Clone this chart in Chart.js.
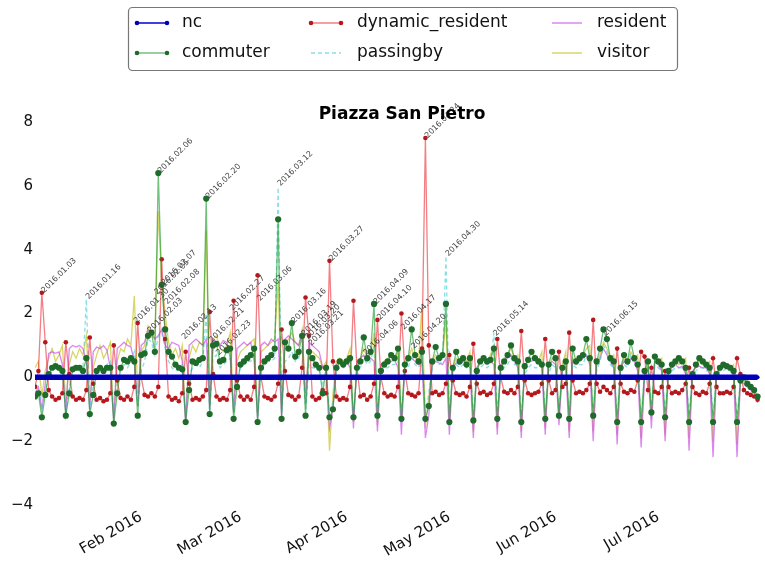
<!DOCTYPE html>
<html>
<head>
<meta charset="utf-8">
<script src="https://cdn.jsdelivr.net/npm/chart.js@4.4.0/dist/chart.umd.min.js"></script>
<style>
  html, body { margin: 0; padding: 0; background: #fff; }
  #wrap { position: relative; width: 765px; height: 569px; }
</style>
</head>
<body>
<div id="wrap"><canvas id="piazza" width="765" height="569"></canvas></div>
<script>
// giorni dal 2016-01-01 (ven) al 2016-07-30; una riga = una settimana lun..dom
const START = Date.UTC(2016, 0, 1);
const DAY = 86400000;

const tickDays = [31, 60, 91, 121, 152, 182];
const tickLabels = ['Feb 2016', 'Mar 2016', 'Apr 2016', 'May 2016', 'Jun 2016', 'Jul 2016'];

const nc = [
  0, 0, 0,
  0, 0, 0, 0, 0, 0, 0,  0, 0, 0, 0, 0, 0, 0,  0, 0, 0, 0, 0, 0, 0,  0, 0, 0, 0, 0, 0, 0,
  0, 0, 0, 0, 0, 0, 0,  0, 0, 0, 0, 0, 0, 0,  0, 0, 0, 0, 0, 0, 0,  0, 0, 0, 0, 0, 0, 0,
  0, 0, 0, 0, 0, 0, 0,  0, 0, 0, 0, 0, 0, 0,  0, 0, 0, 0, 0, 0, 0,  0, 0, 0, 0, 0, 0, 0,
  0, 0, 0, 0, 0, 0, 0,  0, 0, 0, 0, 0, 0, 0,  0, 0, 0, 0, 0, 0, 0,  0, 0, 0, 0, 0, 0, 0,
  0, 0, 0, 0, 0, 0, 0,  0, 0, 0, 0, 0, 0, 0,  0, 0, 0, 0, 0, 0, 0,  0, 0, 0, 0, 0, 0, 0,
  0, 0, 0, 0, 0, 0, 0,  0, 0, 0, 0, 0, 0, 0,  0, 0, 0, 0, 0, 0, 0,  0, 0, 0, 0, 0, 0, 0,
  0, 0, 0, 0, 0, 0, 0,  0, 0, 0, 0, 0, 0, 0,  0, 0, 0, 0, 0, 0, 0,  0, 0, 0, 0, 0, 0, 0,
  0, 0, 0, 0, 0, 0, 0,  0, 0, 0, 0, 0, 0
];

const commuter = [
  -0.6, -0.5, -1.25,
  -0.55, 0.1, 0.3, 0.35, 0.3, 0.2, -1.2,
  -0.5, 0.25, 0.3, 0.3, 0.2, 0.6, -1.15,
  -0.55, 0.2, 0.3, 0.2, 0.3, 0.3, -1.45,
  -0.5, 0.3, 0.55, 0.5, 0.6, 0.5, -1.2,
  0.7, 0.75, 1.3, 1.4, 0.8, 6.4, 2.9,
  1.5, 0.8, 0.65, 0.4, 0.3, 0.25, -1.4,
  -0.4, 0.5, 0.45, 0.55, 0.6, 5.6, -1.15,
  1.0, 1.05, 0.5, 0.55, 0.85, 0.9, -1.3,
  -0.3, 0.4, 0.5, 0.6, 0.7, 0.9, -1.4,
  0.3, 0.5, 0.6, 0.7, 0.9, 4.95, -1.3,
  1.1, 0.9, 1.7, 0.65, 0.8, 1.3, -1.2,
  0.8, 0.6, 0.4, 0.3, -0.5, 0.3, -1.25,
  -1.0, 0.3, 0.5, 0.4, 0.5, 0.6, -1.25,
  0.3, 0.5, 1.25, 0.6, 0.8, 2.3, -1.2,
  0.2, 0.4, 0.5, 0.7, 0.6, 0.9, -1.3,
  0.4, 0.6, 1.5, 0.7, 0.5, 0.8, -1.3,
  -0.9, 0.5, 0.95, 0.6, 0.7, 2.3, -1.4,
  0.3, 0.8, 0.5, 0.6, 0.4, 0.6, -1.35,
  0.2, 0.5, 0.6, 0.5, 0.55, 0.9, -1.3,
  0.3, 0.5, 0.7, 1.0, 0.6, 0.5, -1.4,
  0.35, 0.55, 0.8, 0.6, 0.5, 0.4, -1.3,
  0.4, 0.8, 0.6, -1.2, 0.3, 0.5, -1.3,
  0.9, 0.5, 0.6, 0.7, 1.2, 0.6, -1.2,
  0.5, 0.9, 1.5, 1.2, 0.6, 0.5, -1.4,
  0.3, 0.7, 0.5, 1.1, 0.6, 0.4, -1.4,
  0.2, 0.5, -1.1, 0.65, 0.5, 0.4, -1.25,
  0.2, 0.4, 0.5, 0.6, 0.5, 0.3, -1.4,
  0.1, 0.4, 0.6, 0.5, 0.4, 0.3, -1.4,
  0.1, 0.3, 0.4, 0.35, 0.3, 0.2, -1.4,
  -0.1, 0.0, -0.2, -0.3, -0.4, -0.6
];

const dynamicResident = [
  -0.3, 0.2, 2.65,
  1.1, -0.4, -0.6, -0.7, -0.65, -0.5, 1.1,
  0.1, -0.6, -0.7, -0.65, -0.7, -0.4, 1.25,
  -0.2, -0.7, -0.65, -0.75, -0.7, -0.5, 1.0,
  -0.1, -0.65, -0.7, -0.6, -0.7, -0.3, 1.7,
  0.0, -0.55, -0.6, -0.5, -0.6, -0.3, 3.7,
  1.2, -0.6, -0.7, -0.65, -0.75, -0.5, 0.8,
  -0.2, -0.7, -0.65, -0.7, -0.6, -0.4, 2.05,
  0.1, -0.6, -0.7, -0.65, -0.7, -0.4, 2.4,
  -0.1, -0.6, -0.7, -0.6, -0.7, -0.3, 3.2,
  0.0, -0.6, -0.65, -0.7, -0.6, -0.2, 1.5,
  0.2, -0.55, -0.6, -0.7, -0.6, 0.3, 2.5,
  1.3, -0.6, -0.7, -0.65, -0.4, -0.5, 3.65,
  0.5, -0.6, -0.7, -0.65, -0.7, -0.3, 2.4,
  0.3, -0.6, -0.55, -0.7, -0.6, -0.2, 1.8,
  0.0, -0.5, -0.6, -0.55, -0.6, -0.3, 2.0,
  0.2, -0.5, -0.55, -0.6, -0.5, 0.9, 7.5,
  1.0, -0.5, -0.45, -0.55, -0.5, -0.2, 0.7,
  -0.1, -0.5, -0.55, -0.5, -0.6, -0.3, 1.05,
  -0.2, -0.5, -0.45, -0.55, -0.5, -0.2, 1.2,
  0.0, -0.45, -0.5, -0.4, -0.5, -0.3, 1.45,
  -0.1, -0.5, -0.55, -0.5, -0.45, -0.2, 1.2,
  -0.1, -0.5, -0.4, 0.8, -0.3, -0.2, 1.4,
  -0.1, -0.5, -0.45, -0.5, -0.4, -0.2, 1.8,
  -0.2, -0.45, -0.3, -0.4, -0.5, -0.3, 0.9,
  -0.2, -0.45, -0.5, -0.4, -0.45, -0.1, 0.8,
  0.65, -0.4, 0.3, -0.45, -0.5, -0.3, 0.2,
  -0.3, -0.5, -0.45, -0.5, -0.4, -0.2, 0.3,
  -0.3, -0.5, -0.55, -0.45, -0.5, -0.2, 0.6,
  -0.3, -0.5, -0.5, -0.45, -0.5, -0.3, 0.6,
  0.1, -0.4, -0.5, -0.55, -0.6, -0.7
];

const passingby = [
  -0.2, -0.3, -1.0,
  -0.4, 0.1, 0.2, 0.3, 0.2, 0.3, -1.1,
  -0.3, 0.2, 0.25, 0.2, 0.3, 2.45, -1.0,
  -0.2, 0.2, 0.3, 0.2, 0.4, 0.5, -1.2,
  -0.2, 0.3, 0.4, 0.3, 0.5, 0.8, -0.9,
  0.2, 0.5, 1.2, 1.1, 0.7, 1.3, 1.4,
  0.9, 0.5, 0.3, 0.2, 0.3, 0.4, -1.2,
  0.1, 0.3, 0.4, 0.3, 0.5, 2.0, -1.1,
  0.6, 0.7, 0.3, 0.4, 0.5, 0.6, -1.1,
  0.0, 0.3, 0.4, 0.5, 0.5, 0.7, -1.2,
  0.3, 0.4, 0.5, 0.5, 0.6, 5.95, -1.1,
  0.5, 0.6, 0.8, 0.5, 0.6, 1.0, -1.0,
  0.4, 0.3, 0.3, 0.2, -0.2, 0.2, -1.3,
  -0.8, 0.2, 0.3, 0.3, 0.4, 0.5, -1.2,
  0.2, 0.3, 0.6, 0.4, 0.5, 1.0, -1.2,
  0.1, 0.3, 0.3, 0.4, 0.4, 0.5, -1.2,
  0.2, 0.3, 0.7, 0.4, 0.3, 0.6, -1.1,
  -0.5, 0.3, 0.6, 0.4, 0.5, 3.8, -1.1,
  0.1, 0.4, 0.3, 0.4, 0.3, 0.5, -1.2,
  0.0, 0.3, 0.4, 0.3, 0.4, 1.4, -1.1,
  0.1, 0.3, 0.4, 0.6, 0.4, 0.4, -1.2,
  0.1, 0.3, 0.4, 0.3, 0.3, 0.5, -1.1,
  0.1, 0.4, 0.3, -1.0, 0.2, 0.4, -1.2,
  0.4, 0.3, 0.4, 0.4, 0.7, 0.5, -1.1,
  0.2, 0.5, 1.0, 0.8, 0.4, 0.3, -1.2,
  0.1, 0.4, 0.3, 0.7, 0.4, 0.3, -1.3,
  0.0, 0.3, -1.0, 0.5, 0.3, 0.2, -1.1,
  0.1, 0.2, 0.3, 0.3, 0.3, 0.2, -1.2,
  0.0, 0.2, 0.3, 0.3, 0.2, 0.2, -1.2,
  0.0, 0.2, 0.2, 0.3, 0.2, 0.1, -1.3,
  -0.1, -0.1, -0.2, -0.3, -0.4, -0.5
];

const resident = [
  -0.5, -0.3, -1.0,
  -0.2, 0.75, 0.8, 0.75, 0.8, 0.4, -1.2,
  0.9, 1.0, 0.95, 1.0, 0.9, 0.5, -1.0,
  0.8, 0.95, 0.9, 1.0, 0.85, 0.3, -1.4,
  0.9, 1.0, 1.1, 1.0, 0.95, 0.5, -0.9,
  1.0, 1.1, 1.5, 1.4, 1.2, 1.3, 1.5,
  1.0, 0.9, 1.1, 1.05, 1.0, 0.5, -1.5,
  1.0, 1.1, 1.2, 1.1, 1.0, 1.2, -1.0,
  1.2, 1.1, 1.0, 1.15, 1.1, 0.6, -1.1,
  0.9, 1.0, 1.1, 1.0, 1.1, 0.5, -1.3,
  1.0, 1.1, 1.0, 1.2, 1.1, 1.2, -1.2,
  1.2, 1.3, 1.2, 1.1, 1.0, 1.4, -0.8,
  1.1, 1.0, 0.9, 0.8, 0.3, 0.2, -1.6,
  -1.0, 0.4, 0.5, 0.45, 0.5, 0.3, -1.6,
  0.5, 0.6, 0.7, 0.5, 0.6, 0.5, -1.7,
  0.4, 0.5, 0.45, 0.5, 0.55, 0.3, -1.8,
  0.4, 0.5, 0.6, 0.5, 0.4, 0.5, -1.9,
  -1.2, 0.4, 0.5, 0.45, 0.4, 0.6, -1.8,
  0.3, 0.45, 0.4, 0.5, 0.45, 0.3, -1.9,
  0.3, 0.5, 0.55, 0.4, 0.5, 0.4, -1.8,
  0.4, 0.5, 0.6, 0.7, 0.5, 0.3, -1.9,
  0.4, 0.5, 0.5, 0.6, 0.5, 0.3, -1.8,
  0.4, 0.5, 0.4, -1.5, 0.2, 0.3, -1.9,
  0.5, 0.4, 0.5, 0.6, 0.7, 0.4, -2.0,
  0.4, 0.6, 0.9, 0.7, 0.5, 0.3, -2.1,
  0.3, 0.5, 0.4, 0.6, 0.5, 0.2, -2.2,
  0.0, 0.3, -1.6, 0.5, 0.4, 0.2, -2.0,
  0.2, 0.3, 0.4, 0.3, 0.35, 0.1, -2.3,
  0.2, 0.3, 0.35, 0.3, 0.3, 0.1, -2.5,
  0.1, 0.3, 0.3, 0.35, 0.3, 0.0, -2.5,
  -0.1, -0.2, -0.3, -0.4, -0.5, -0.8
];

const visitor = [
  0.3, 0.5, -0.6,
  0.2, 0.6, 0.9, 0.5, 0.7, 1.0, -0.8,
  0.4, 0.8, 0.6, 0.9, 0.7, 1.3, -0.7,
  0.3, 0.7, 1.0, 0.6, 0.8, 1.1, -1.3,
  0.5, 0.9, 0.8, 1.2, 1.0, 2.55, -0.5,
  0.8, 1.0, 1.6, 1.3, 1.2, 5.2, 3.0,
  2.0, 1.1, 0.7, 0.9, 0.6, 1.0, -1.3,
  0.6, 1.0, 0.8, 1.1, 1.0, 4.6, -0.9,
  1.2, 1.3, 0.9, 0.8, 1.0, 1.4, -1.0,
  0.5, 0.8, 0.9, 1.0, 1.1, 1.2, -1.1,
  0.8, 0.9, 1.0, 1.1, 1.2, 3.0, -1.0,
  1.0, 1.2, 1.4, 1.1, 1.0, 1.5, -0.5,
  0.9, 0.8, 0.7, 0.6, 0.3, 0.5, -2.3,
  -0.5, 0.5, 0.6, 0.5, 0.6, 0.9, -1.4,
  0.4, 0.6, 0.9, 0.6, 0.7, 1.4, -1.5,
  0.3, 0.5, 0.6, 0.7, 0.6, 0.8, -1.4,
  0.5, 0.6, 0.9, 0.6, 0.5, 2.3, -1.6,
  -0.6, 0.5, 0.7, 0.6, 0.6, 1.8, -1.5,
  0.3, 0.6, 0.5, 0.6, 0.5, 0.8, -1.7,
  0.2, 0.5, 0.6, 0.5, 0.7, 1.0, -1.6,
  0.3, 0.6, 0.7, 0.9, 0.6, 0.7, -1.7,
  0.3, 0.5, 0.6, 0.7, 0.5, 0.8, -1.6,
  0.3, 0.6, 0.5, -1.2, 0.4, 0.8, -1.7,
  0.6, 0.5, 0.6, 0.7, 0.9, 1.0, -1.7,
  0.4, 0.7, 1.1, 0.9, 0.6, 0.7, -1.8,
  0.2, 0.6, 0.5, 0.8, 0.6, 0.7, -1.9,
  0.1, 0.4, -1.3, 0.6, 0.5, 0.6, -1.8,
  0.2, 0.4, 0.5, 0.4, 0.5, 0.6, -1.9,
  0.1, 0.4, 0.5, 0.4, 0.4, 0.5, -2.0,
  0.1, 0.3, 0.4, 0.4, 0.3, 0.4, -2.1,
  -0.1, 0.0, -0.2, -0.3, -0.5, -0.6
];

// etichette delle anomalie (data, valore)
const annDates = ['2016.01.03', '2016.01.16', '2016.01.30', '2016.02.03', '2016.02.06', '2016.02.07',
  '2016.02.05', '2016.02.08', '2016.02.13', '2016.02.20', '2016.02.21', '2016.02.23', '2016.02.27',
  '2016.03.06', '2016.03.12', '2016.03.16', '2016.03.19', '2016.03.20', '2016.03.21', '2016.03.27',
  '2016.04.09', '2016.04.10', '2016.04.06', '2016.04.17', '2016.04.20', '2016.04.24', '2016.04.30',
  '2016.05.14', '2016.06.15'];
const annValues = [2.65, 2.45, 1.7, 1.4, 6.4, 2.9,
  2.6, 2.3, 1.2, 5.6, 1.1, 0.7, 2.1,
  2.4, 6.0, 1.7, 1.3, 1.2, 1.0, 3.65,
  2.3, 1.8, 0.7, 1.5, 0.9, 7.5, 3.8,
  1.3, 1.3];

const toPoints = arr => arr.map((v, i) => ({ x: i, y: v }));
const dayIndex = s => {
  const p = s.split('.');
  return Math.round((Date.UTC(+p[0], +p[1] - 1, +p[2]) - START) / DAY);
};

const legendPlugin = {
  id: 'mplLegend',
  afterDraw(chart) {
    const ctx = chart.ctx;
    ctx.save();
    // titolo
    ctx.fillStyle = '#000';
    ctx.font = 'bold 17px "DejaVu Sans"';
    ctx.textAlign = 'center';
    ctx.textBaseline = 'middle';
    ctx.fillText('Piazza San Pietro', 402, 115);

    // cornice legenda
    ctx.strokeStyle = '#777';
    ctx.lineWidth = 1.2;
    ctx.beginPath();
    ctx.roundRect(128.5, 7.5, 549, 63, 4);
    ctx.fillStyle = '#fff';
    ctx.fill();
    ctx.stroke();

    const cols = [[0, 1], [2, 3], [4, 5]];
    const sampleX = [137, 311, 552];
    const textX = [182, 357, 597];
    const rowY = [23, 53];
    ctx.font = '17px "DejaVu Sans"';
    ctx.textAlign = 'left';
    cols.forEach((col, c) => {
      col.forEach((di, r) => {
        const ds = chart.data.datasets[di];
        const y = rowY[r];
        ctx.strokeStyle = ds.borderColor;
        ctx.lineWidth = ds.legendWidth || 1.5;
        ctx.setLineDash(ds.borderDash || []);
        ctx.beginPath();
        ctx.moveTo(sampleX[c], y);
        ctx.lineTo(sampleX[c] + 30, y);
        ctx.stroke();
        ctx.setLineDash([]);
        if (ds.pointRadius > 0) {
          ctx.fillStyle = ds.pointBackgroundColor;
          [sampleX[c], sampleX[c] + 30].forEach(px => {
            ctx.beginPath();
            ctx.arc(px, y, 2.3, 0, Math.PI * 2);
            ctx.fill();
          });
        }
        ctx.fillStyle = '#111';
        ctx.fillText(ds.label, textX[c], y);
      });
    });
    ctx.restore();
  }
};

const annotationPlugin = {
  id: 'dateNotes',
  afterDatasetsDraw(chart) {
    const ctx = chart.ctx;
    const xs = chart.scales.x, ys = chart.scales.y;
    ctx.save();
    ctx.fillStyle = '#444';
    ctx.font = '8px "DejaVu Sans"';
    ctx.textAlign = 'left';
    ctx.textBaseline = 'middle';
    annDates.forEach((d, i) => {
      const px = xs.getPixelForValue(dayIndex(d));
      const py = ys.getPixelForValue(annValues[i]);
      ctx.save();
      ctx.translate(px + 1, py - 1);
      ctx.rotate(-Math.PI / 4);
      ctx.fillText(d, 0, 0);
      ctx.restore();
    });
    ctx.restore();
  }
};

const ctx = document.getElementById('piazza').getContext('2d');
new Chart(ctx, {
  type: 'line',
  data: {
    datasets: [
      { label: 'nc', data: toPoints(nc), borderColor: '#0000d0', borderWidth: 5.5, legendWidth: 1.5,
        pointRadius: 2, pointBackgroundColor: '#0000b0', pointBorderWidth: 0 },
      { label: 'commuter', data: toPoints(commuter), borderColor: 'rgba(20,150,40,0.6)', borderWidth: 1.3,
        pointRadius: 3.1, pointBackgroundColor: '#1e6b2a', pointBorderWidth: 0 },
      { label: 'dynamic_resident', data: toPoints(dynamicResident), borderColor: 'rgba(235,40,50,0.6)', borderWidth: 1.3,
        pointRadius: 2.3, pointBackgroundColor: '#b4181c', pointBorderWidth: 0 },
      { label: 'passingby', data: toPoints(passingby), borderColor: 'rgba(60,200,210,0.6)', borderWidth: 1.3,
        borderDash: [4, 3], pointRadius: 0 },
      { label: 'resident', data: toPoints(resident), borderColor: 'rgba(200,70,230,0.65)', borderWidth: 1.3,
        pointRadius: 0 },
      { label: 'visitor', data: toPoints(visitor), borderColor: 'rgba(200,195,40,0.7)', borderWidth: 1.3,
        pointRadius: 0 }
    ]
  },
  options: {
    responsive: false,
    animation: false,
    layout: { padding: { top: 122, left: 0, right: 0, bottom: 0 } },
    elements: { line: { tension: 0 } },
    plugins: {
      legend: { display: false },
      title: { display: false },
      tooltip: { enabled: false }
    },
    scales: {
      x: {
        type: 'linear',
        min: 0,
        max: 212,
        grid: { display: false, drawTicks: false },
        border: { display: false },
        afterBuildTicks: scale => { scale.ticks = tickDays.map(v => ({ value: v })); },
        afterFit: scale => { scale.height = 64; },
        ticks: {
          autoSkip: false,
          minRotation: 30,
          maxRotation: 30,
          padding: 3,
          color: '#111',
          font: { family: 'DejaVu Sans', size: 15 },
          callback: (value, index) => tickLabels[index]
        }
      },
      y: {
        min: -4,
        max: 8,
        grid: { display: false, drawTicks: false },
        border: { display: false },
        afterFit: scale => { scale.width = 35; },
        ticks: {
          stepSize: 2,
          padding: 2,
          color: '#111',
          font: { family: 'DejaVu Sans', size: 15 },
          callback: v => (v < 0 ? '\u2212' + Math.abs(v) : String(v))
        }
      }
    }
  },
  plugins: [annotationPlugin, legendPlugin]
});
</script>
</body>
</html>
